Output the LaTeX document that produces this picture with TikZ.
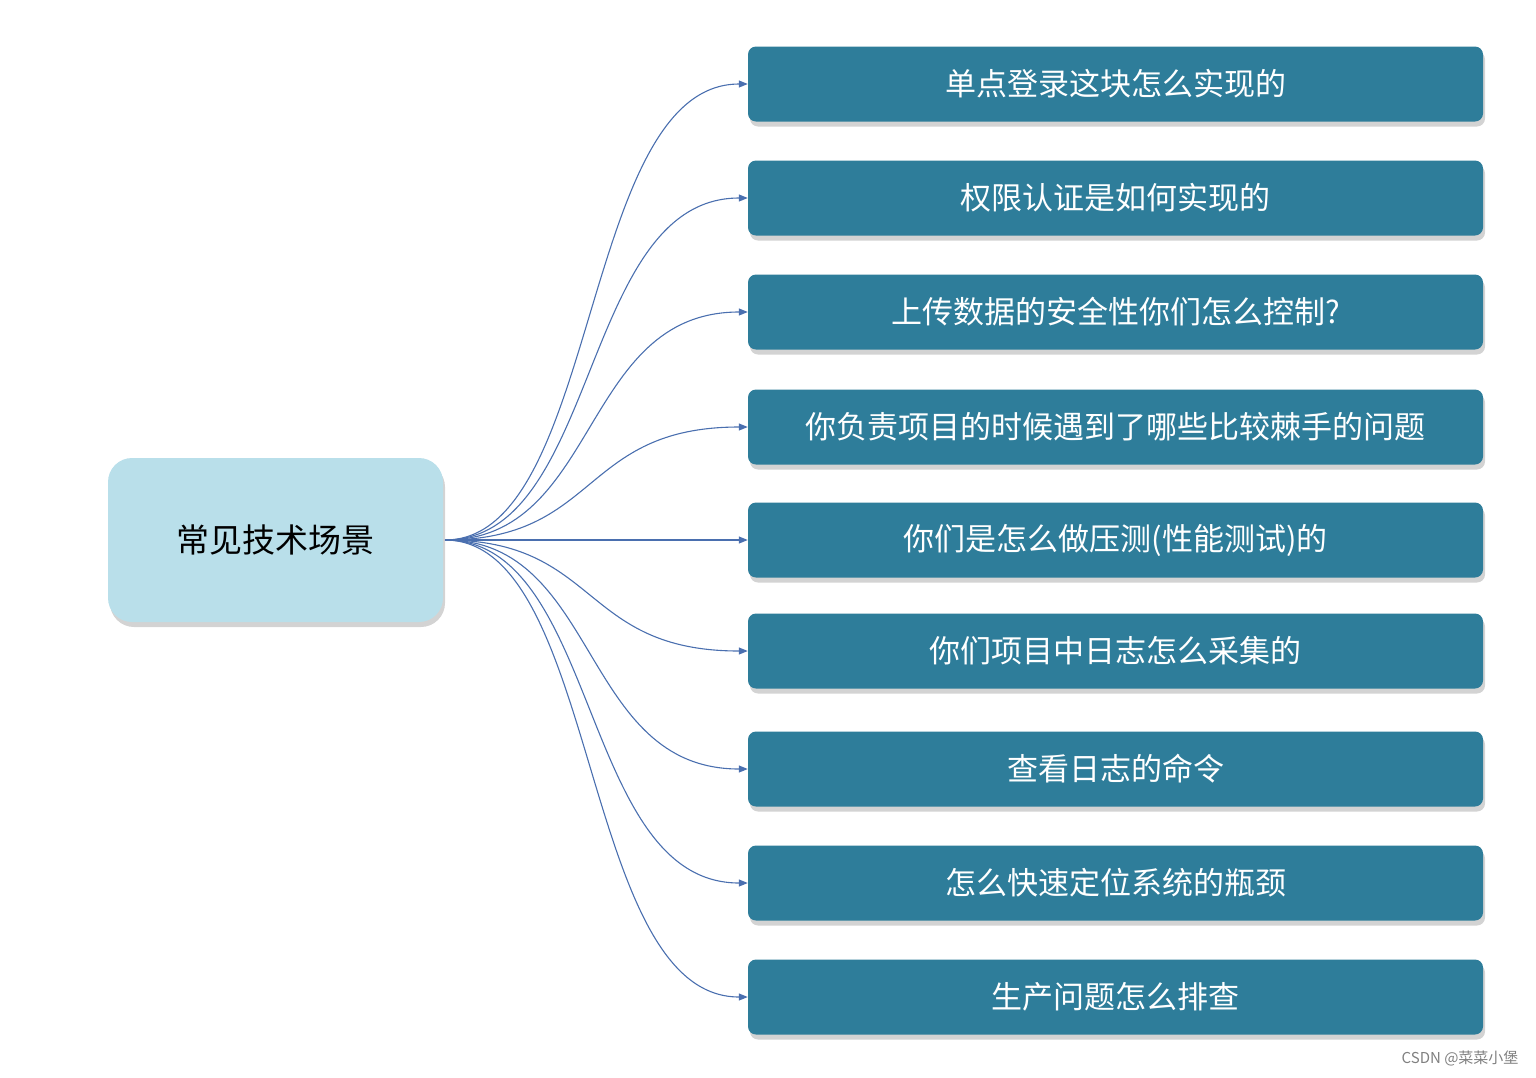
\documentclass[tikz,border=0pt]{standalone}
\usepackage{fontspec}
\setmainfont{Noto Sans CJK SC}
\usetikzlibrary{shadows,arrows.meta}
\definecolor{rootc}{HTML}{B9DFEA}
\definecolor{boxc}{HTML}{2E7D9A}
\definecolor{linec}{HTML}{4A6FAF}
\begin{document}
\begin{tikzpicture}[x=1pt,y=-1pt,
  rootbox/.style={draw=none,fill=rootc,rounded corners=24pt,minimum width=335pt,minimum height=164pt,drop shadow={shadow xshift=2pt,shadow yshift=-5pt,opacity=0.35},font=\fontsize{33}{40}\selectfont,text=black},
  itembox/.style={draw=none,fill=boxc,rounded corners=8pt,minimum width=735pt,minimum height=75pt,drop shadow={shadow xshift=2pt,shadow yshift=-5pt,opacity=0.35},font=\fontsize{31}{38}\selectfont,text=white},
  conn/.style={draw=linec,line width=1.1pt,-{Triangle[length=9pt,width=7pt]}}]
\useasboundingbox (0,0) rectangle (1536,1077);
\node[rootbox] (r) at (275.5,540) {常见技术场景};
\coordinate (s) at (445,540);
\foreach \i/\y/\t in {1/84/单点登录这块怎么实现的,2/198/权限认证是如何实现的,3/312/上传数据的安全性你们怎么控制?,4/427/你负责项目的时候遇到了哪些比较棘手的问题,5/540/你们是怎么做压测(性能测试)的,6/651/你们项目中日志怎么采集的,7/769/查看日志的命令,8/883/怎么快速定位系统的瓶颈,9/997/生产问题怎么排查}{
  \node[itembox] (b\i) at (1115.5,\y) {\t};
  \draw[conn] (s) .. controls (600,540) and (580,\y) .. (b\i.west);
}
\node[anchor=south east,text=gray,font=\fontsize{15}{18}\selectfont] (wm) at (1522,1070) {CSDN @菜菜小堡};
\end{tikzpicture}
\end{document}
